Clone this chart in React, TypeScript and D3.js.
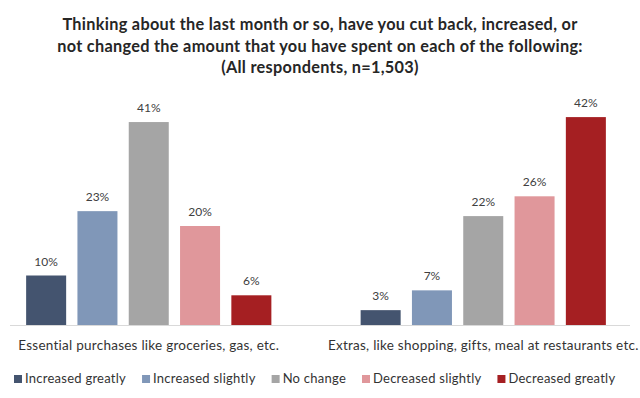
import React, { useEffect, useRef } from "react";
import * as d3 from "d3";

const titleLines = [
  "Thinking about the last month or so, have you cut back, increased, or",
  "not changed the amount that you have spent on each of the following:",
  "(All respondents, n=1,503)",
];
const categories = [
  "Essential purchases like groceries, gas, etc.",
  "Extras, like shopping, gifts, meal at restaurants etc.",
];
const seriesNames = [
  "Increased greatly",
  "Increased slightly",
  "No change",
  "Decreased slightly",
  "Decreased greatly",
];
const seriesColors = ["#44546f", "#8097b8", "#a5a5a5", "#e0979b", "#a51f22"];
// values per series, in category order
const increasedGreatly = [10, 3];
const increasedSlightly = [23, 7];
const noChange = [41, 22];
const decreasedSlightly = [20, 26];
const decreasedGreatly = [6, 42];
const seriesValues = [increasedGreatly, increasedSlightly, noChange, decreasedSlightly, decreasedGreatly];

const W = 640;
const H = 398;
const FONT = "Lato, 'Open Sans', sans-serif";

export default function App() {
  const ref = useRef<SVGSVGElement>(null);

  useEffect(() => {
    const svg = d3.select(ref.current);
    svg.selectAll("*").remove();

    const baseline = 325;
    const y = d3.scaleLinear().domain([0, 45]).range([baseline, baseline - 45 * 4.95]);
    const x0 = d3.scaleBand<string>().domain(categories).range([-18.5, 650.5]);
    const x1 = d3
      .scaleBand<string>()
      .domain(seriesNames)
      .range([0, x0.bandwidth()])
      .paddingInner(0.22)
      .paddingOuter(0.87);

    // title
    svg
      .append("g")
      .selectAll("text")
      .data(titleLines)
      .enter()
      .append("text")
      .attr("x", W / 2)
      .attr("y", (d, i) => 30 + i * 21.7)
      .attr("text-anchor", "middle")
      .style("font-family", FONT)
      .style("font-weight", "bold")
      .style("font-size", "16.3px")
      .style("letter-spacing", "0.3px")
      .style("fill", "#262626")
      .text((d) => d);

    // axis line
    svg
      .append("line")
      .attr("x1", 10)
      .attr("x2", 630)
      .attr("y1", baseline + 0.5)
      .attr("y2", baseline + 0.5)
      .style("stroke", "#d9d9d9")
      .style("stroke-width", 1);

    const groups = svg
      .selectAll(".grp")
      .data(categories)
      .enter()
      .append("g")
      .attr("transform", (d) => `translate(${x0(d)},0)`);

    const barData = (ci: number) =>
      seriesNames.map((s, si) => ({ s, si, v: seriesValues[si][ci] }));

    groups.each(function (cat, ci) {
      const g = d3.select(this);
      const bars = g.selectAll("rect").data(barData(ci)).enter();
      bars
        .append("rect")
        .attr("x", (d) => x1(d.s)!)
        .attr("width", x1.bandwidth())
        .attr("y", (d) => y(d.v))
        .attr("height", (d) => baseline - y(d.v))
        .attr("fill", (d) => seriesColors[d.si]);
      g.selectAll("text.val")
        .data(barData(ci))
        .enter()
        .append("text")
        .attr("class", "val")
        .attr("x", (d) => x1(d.s)! + x1.bandwidth() / 2)
        .attr("y", (d) => y(d.v) - 10)
        .attr("text-anchor", "middle")
        .style("font-family", FONT)
        .style("font-size", "12px")
        .style("fill", "#404040")
        .text((d) => `${d.v}%`);
      g.append("text")
        .attr("x", x0.bandwidth() / 2)
        .attr("y", 349.5)
        .attr("text-anchor", "middle")
        .style("font-family", FONT)
        .style("font-size", "13.5px")
        .style("letter-spacing", "0.25px")
        .style("fill", "#333")
        .text(cat);
    });

    // legend, laid out left to right
    const legend = svg.append("g").attr("transform", "translate(14,383)");
    let cx = 0;
    seriesNames.forEach((name, i) => {
      const item = legend.append("g").attr("transform", `translate(${cx},0)`);
      item
        .append("rect")
        .attr("x", 0)
        .attr("y", -8)
        .attr("width", 8)
        .attr("height", 8)
        .attr("fill", seriesColors[i]);
      const t = item
        .append("text")
        .attr("x", 11)
        .attr("y", 0)
        .style("font-family", FONT)
        .style("font-size", "13px")
        .style("letter-spacing", "0.25px")
        .style("fill", "#333")
        .text(name);
      const len = (t.node() as SVGTextElement).getComputedTextLength();
      cx += 11 + len + 16;
    });
  }, []);

  return (
    <svg
      ref={ref}
      width={W}
      height={H}
      style={{ position: "absolute", left: 0, top: 0, background: "#fff" }}
    />
  );
}
